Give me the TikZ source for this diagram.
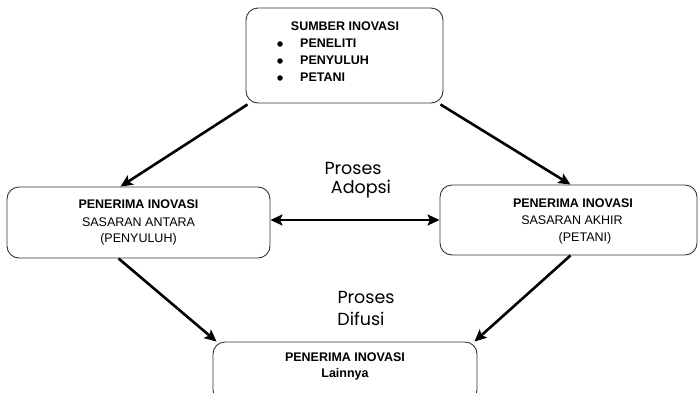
\documentclass[tikz,border=0pt]{standalone}
\usepackage{fontspec}
\setmainfont{Liberation Sans}
\newfontfamily\procfont{Poppins}
\usetikzlibrary{arrows.meta}
\begin{document}
\begin{tikzpicture}[x=1pt,y=-1pt,
  box/.style={draw=black!80,line width=0.9pt,rounded corners=12pt,inner sep=0pt},
  lbl/.style={inner sep=0pt,font=\fontsize{12.5}{14}\selectfont},
  blbl/.style={lbl,font=\fontsize{12.5}{14}\selectfont\bfseries},
  dot/.style={circle,fill=black,inner sep=0pt,minimum size=5.5pt},
  proc/.style={inner sep=0pt,font=\procfont\fontsize{17.5}{20}\selectfont},
  arr/.style={line width=2.6pt,-{Stealth[length=12pt,width=11pt,inset=2.5pt]}},
  darr/.style={line width=2.6pt,{Stealth[length=12pt,width=11pt,inset=2.5pt]}-{Stealth[length=12pt,width=11pt,inset=2.5pt]}}]
\useasboundingbox (0,0) rectangle (698,392);
% boxes
\node[box,minimum width=197pt,minimum height=95pt] (top) at (344.5,55.5) {};
\node[box,minimum width=263pt,minimum height=71pt] (left) at (138.5,222.5) {};
\node[box,minimum width=257pt,minimum height=70pt] (right) at (568.5,220) {};
\node[box,minimum width=264pt,minimum height=60pt] (bottom) at (345,372) {};
% top texts
\node[blbl] (t1) at (345,26) {SUMBER INOVASI};
\node[dot] (b1) at (280,44) {};
\node[dot] (b2) at (280,61) {};
\node[dot] (b3) at (280,78) {};
\node[blbl,anchor=west] (i1) at (300,43) {PENELITI};
\node[blbl,anchor=west] (i2) at (300,60) {PENYULUH};
\node[blbl,anchor=west] (i3) at (300,77) {PETANI};
% left texts
\node[blbl] (l1) at (138.5,204) {PENERIMA INOVASI};
\node[lbl] (l2) at (138.5,222) {SASARAN ANTARA};
\node[lbl] (l3) at (138.5,239) {(PENYULUH)};
% right texts
\node[blbl] (r1) at (573,203) {PENERIMA INOVASI};
\node[lbl] (r2) at (572,220) {SASARAN AKHIR};
\node[lbl] (r3) at (585,238) {(PETANI)};
% bottom texts
\node[blbl] (m1) at (345,357) {PENERIMA INOVASI};
\node[blbl] (m2) at (345,374) {Lainnya};
% process labels
\node[proc] (pa1) at (353,168) {Proses};
\node[proc] (pa2) at (361,189) {Adopsi};
\node[proc] (pd1) at (366,297) {Proses};
\node[proc] (pd2) at (361,319) {Difusi};
% arrows
\draw[arr] ([xshift=2pt,yshift=-1pt]top.south west) -- ([xshift=-18pt]left.north);
\draw[arr] ([xshift=-3pt,yshift=-1pt]top.south east) -- ([xshift=2pt]right.north);
\draw[arr] ([xshift=-20pt]left.south) -- ([xshift=4pt]bottom.north west);
\draw[arr] ([xshift=2pt]right.south) -- ([xshift=-3pt]bottom.north east);
\draw[darr] (left.east |- right.west) -- (right.west);
\end{tikzpicture}
\end{document}
